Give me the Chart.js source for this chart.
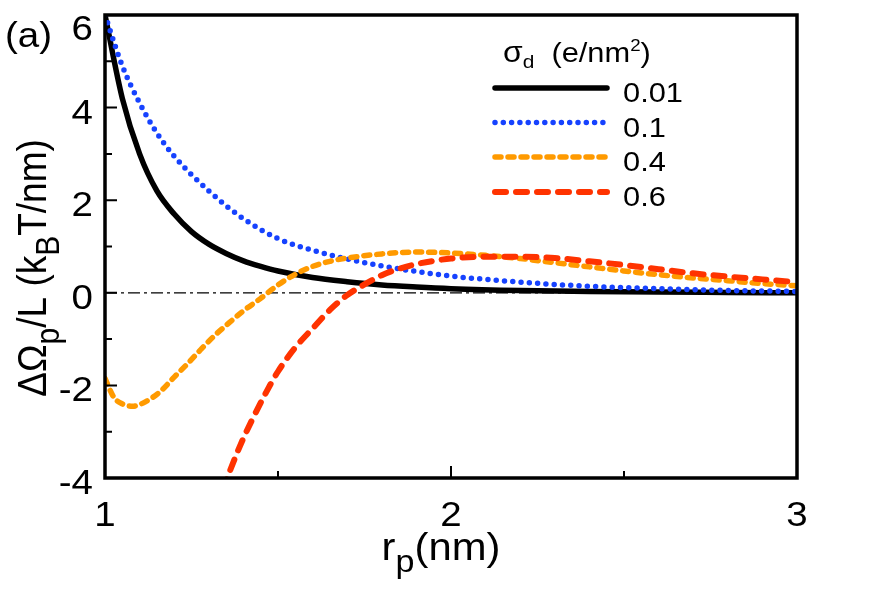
<!DOCTYPE html>
<html>
<head>
<meta charset="utf-8">
<script src="https://cdn.jsdelivr.net/npm/chart.js@4"></script>
<style>html,body{margin:0;padding:0;background:#fff}</style>
</head>
<body>
<canvas id="myChart" width="872" height="590"></canvas>
<script>
// values
var blackX = [1.0, 1.05, 1.1, 1.15, 1.2, 1.25, 1.3, 1.35, 1.4, 1.45, 1.5, 1.6, 1.7, 1.8, 1.9, 2.0, 2.2, 2.4, 2.6, 2.8, 3.0];
var blackY = [6.0, 4.2, 3.0, 2.2, 1.7, 1.32, 1.05, 0.85, 0.69, 0.57, 0.47, 0.33, 0.24, 0.17, 0.125, 0.09, 0.05, 0.03, 0.015, 0.008, 0.0];

var blueX = [1.0, 1.05, 1.1, 1.15, 1.2, 1.3, 1.4, 1.5, 1.6, 1.7, 1.8, 1.9, 2.0, 2.1, 2.2, 2.4, 2.6, 2.8, 3.0];
var blueY = [6.0, 4.9, 4.1, 3.45, 2.95, 2.2, 1.6, 1.17, 0.92, 0.73, 0.58, 0.46, 0.36, 0.29, 0.23, 0.14, 0.09, 0.05, 0.03];

var orangeX = [1.0, 1.025, 1.05, 1.08, 1.12, 1.16, 1.2, 1.24, 1.28, 1.32, 1.36, 1.4, 1.45, 1.5, 1.55, 1.6, 1.65, 1.7, 1.8, 1.9, 2.0, 2.1, 2.2, 2.3, 2.4, 2.5, 2.6, 2.7, 2.8, 2.9, 3.0];
var orangeY = [-1.85, -2.25, -2.4, -2.45, -2.34, -2.13, -1.82, -1.52, -1.2, -0.9, -0.64, -0.39, -0.12, 0.17, 0.4, 0.57, 0.68, 0.75, 0.84, 0.88, 0.86, 0.81, 0.74, 0.65, 0.56, 0.47, 0.39, 0.32, 0.26, 0.2, 0.15];

var redX = [1.34, 1.39, 1.43, 1.47, 1.5, 1.55, 1.6, 1.65, 1.7, 1.75, 1.8, 1.85, 1.9, 1.95, 2.0, 2.1, 2.2, 2.3, 2.4, 2.5, 2.6, 2.7, 2.8, 2.9, 3.0];
var redY = [-4.25, -3.31, -2.67, -2.09, -1.7, -1.18, -0.77, -0.37, -0.05, 0.18, 0.38, 0.52, 0.62, 0.69, 0.74, 0.78, 0.78, 0.75, 0.68, 0.6, 0.51, 0.42, 0.35, 0.29, 0.23];

var refX = [1, 3];
var refY = [0, 0];

var seriesLabels = ['0.01', '0.1', '0.4', '0.6'];
var xTicks = [1, 2, 3];
var xMinor = [1.5, 2.5];
var yTicks = [6, 4, 2, 0, -2, -4];
var yMinor = [5, 3, 1, -1, -3];

function pts(xs, ys) {
    return xs.map(function (x, i) { return {x: x, y: ys[i]}; });
}

var FONT = '"Liberation Sans", Arial, sans-serif';
var SX = 1.1;

function richWidth(ctx, parts) {
    var w = 0;
    parts.forEach(function (p) {
        ctx.font = p.size + 'px ' + FONT;
        w += ctx.measureText(p.t).width;
    });
    return w;
}

function drawRich(ctx, parts, x, y, align, rot) {
    ctx.save();
    ctx.translate(x, y);
    ctx.scale(SX, 1);
    if (rot) ctx.rotate(rot);
    var w = richWidth(ctx, parts);
    var cx = align === 'center' ? -w / 2 : (align === 'right' ? -w : 0);
    ctx.fillStyle = '#000';
    ctx.textAlign = 'left';
    ctx.textBaseline = 'alphabetic';
    parts.forEach(function (p) {
        ctx.font = p.size + 'px ' + FONT;
        ctx.fillText(p.t, cx, p.dy || 0);
        cx += ctx.measureText(p.t).width;
    });
    ctx.restore();
}

var decor = {
    id: 'decor',
    afterDraw: function (chart) {
        var ctx = chart.ctx, a = chart.chartArea;
        var xs = chart.scales.x, ys = chart.scales.y;
        ctx.save();
        // frame
        ctx.strokeStyle = '#000';
        ctx.lineWidth = 3.5;
        ctx.strokeRect(a.left, a.top, a.right - a.left, a.bottom - a.top);
        // inward ticks
        ctx.lineWidth = 2;
        ctx.beginPath();
        yTicks.forEach(function (v) { var p = ys.getPixelForValue(v); ctx.moveTo(a.left, p); ctx.lineTo(a.left + 12, p); });
        yMinor.forEach(function (v) { var p = ys.getPixelForValue(v); ctx.moveTo(a.left, p); ctx.lineTo(a.left + 7, p); });
        xTicks.forEach(function (v) { var p = xs.getPixelForValue(v); ctx.moveTo(p, a.bottom); ctx.lineTo(p, a.bottom - 12); });
        xMinor.forEach(function (v) { var p = xs.getPixelForValue(v); ctx.moveTo(p, a.bottom); ctx.lineTo(p, a.bottom - 7); });
        ctx.stroke();
        // tick labels
        yTicks.forEach(function (v) {
            var p = Math.max(ys.getPixelForValue(v) + 16, a.top + 25);
            drawRich(ctx, [{t: String(v), size: 35}], a.left - 12, p, 'right');
        });
        xTicks.forEach(function (v) {
            drawRich(ctx, [{t: String(v), size: 35}], xs.getPixelForValue(v), 526, 'center');
        });
        // axis titles
        drawRich(ctx, [{t: 'r', size: 38}, {t: 'p', size: 31, dy: 12}, {t: '(nm)', size: 38}], 441, 560, 'center');
        drawRich(ctx, [{t: '\u0394\u03A9', size: 37}, {t: 'p', size: 30, dy: 12}, {t: '/L (k', size: 37},
            {t: 'B', size: 30, dy: 12}, {t: 'T/nm)', size: 37}], 46, 268, 'center', -Math.PI / 2);
        drawRich(ctx, [{t: '(a)', size: 35}], 5, 47, 'left');
        // legend
        drawRich(ctx, [{t: '\u03C3', size: 29}, {t: 'd', size: 19, dy: 6}, {t: '  (e/nm', size: 28},
            {t: '2', size: 17, dy: -11}, {t: ')', size: 28}], 503, 62, 'left');
        var ly = [88, 122.5, 157, 192];
        chart.data.datasets.forEach(function (ds, i) {
            if (i >= seriesLabels.length) return;
            ctx.save();
            ctx.strokeStyle = ds.borderColor;
            ctx.lineWidth = ds.borderWidth;
            ctx.lineCap = ds.borderCapStyle || 'round';
            ctx.setLineDash(ds.borderDash || []);
            ctx.beginPath();
            ctx.moveTo(495, ly[i]);
            ctx.lineTo(607, ly[i]);
            ctx.stroke();
            ctx.restore();
            drawRich(ctx, [{t: seriesLabels[i], size: 28}], 623, ly[i] + 14, 'left');
        });
        ctx.restore();
    }
};

var ctx = document.getElementById('myChart').getContext('2d');
var myChart = new Chart(ctx, {
    type: 'line',
    data: {
        datasets: [
            {label: seriesLabels[0], data: pts(blackX, blackY), borderColor: '#000000', borderWidth: 5.5,
                borderCapStyle: 'round', order: 4},
            {label: seriesLabels[1], data: pts(blueX, blueY), borderColor: '#1642ff', borderWidth: 5.5,
                borderDash: [0, 8.3], borderCapStyle: 'round', order: 3},
            {label: seriesLabels[2], data: pts(orangeX, orangeY), borderColor: '#ff9a00', borderWidth: 5.5,
                borderDash: [6, 7], borderCapStyle: 'round', order: 2},
            {label: seriesLabels[3], data: pts(redX, redY), borderColor: '#ff3300', borderWidth: 6,
                borderDash: [11, 10], borderCapStyle: 'round', order: 1},
            {label: 'zero', data: pts(refX, refY), borderColor: '#000000', borderWidth: 1.2,
                borderDash: [12, 4, 3, 4], order: 10, tension: 0}
        ]
    },
    options: {
        responsive: false,
        animation: false,
        devicePixelRatio: 1,
        layout: {padding: {left: 0, top: 15, right: 75, bottom: 0}},
        elements: {
            point: {radius: 0},
            line: {fill: false, cubicInterpolationMode: 'monotone'}
        },
        plugins: {legend: {display: false}, tooltip: {enabled: false}},
        scales: {
            x: {
                type: 'linear', min: 1, max: 3,
                ticks: {display: false},
                grid: {display: false},
                border: {display: false},
                afterFit: function (s) { s.height = 112; }
            },
            y: {
                min: -4, max: 6,
                ticks: {display: false},
                grid: {display: false},
                border: {display: false},
                afterFit: function (s) { s.width = 105; }
            }
        }
    },
    plugins: [decor]
});
</script>
</body>
</html>
